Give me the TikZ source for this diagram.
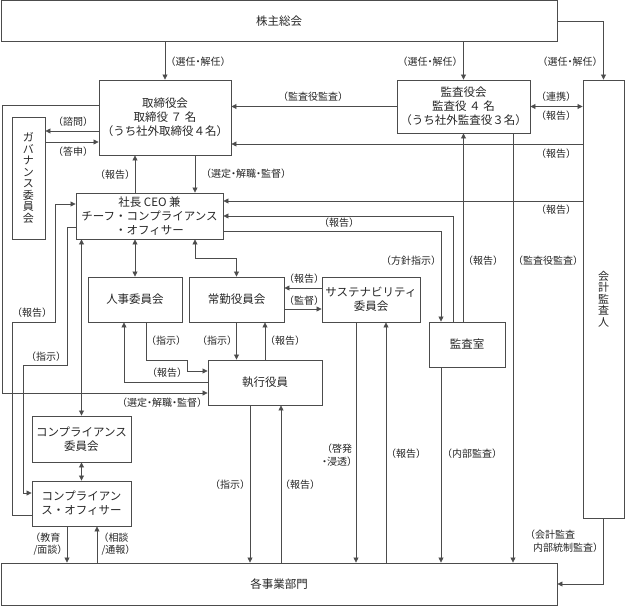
\documentclass[tikz,border=0pt]{standalone}
\usepackage{fontspec}
\setmainfont{Noto Sans CJK JP}
\newfontfamily\labfont{Noto Sans CJK JP}[RawFeature=+halt]
\usetikzlibrary{arrows.meta, calc}

\begin{document}
\begin{tikzpicture}
  [
   x=1pt, y=-1pt, % 以像素为单位, y 轴向下
   box/.style={draw=black!70, line width=0.9pt, inner sep=0pt, align=center,
               text=black!85, font=\fontsize{11.5}{14}\selectfont},
   vbox/.style={box, font=\fontsize{11}{11.5}\selectfont},
   arr/.style={draw=black!70, line width=0.8pt, -{Triangle[length=5pt,width=5pt]}},
   darr/.style={arr, {Triangle[length=5pt,width=5pt]}-{Triangle[length=5pt,width=5pt]}},
   lab/.style={inner sep=0pt, text=black!85, align=center,
               font=\labfont\fontsize{10}{12.5}\selectfont}
  ]
  \useasboundingbox (0,0) rectangle (625,606);

  % 各个方框
  \node[box, minimum width=556pt, minimum height=41pt] (kabunushi) at (279,21) {株主総会};
  \node[box, minimum width=132pt, minimum height=75pt] (torishimari) at (165,117.5)
       {取締役会\\取締役 ７ 名\\（うち社外取締役４名）};
  \node[box, minimum width=133pt, minimum height=53pt] (kansayaku) at (463.5,106.5)
       {監査役会\\監査役 ４ 名\\（うち社外監査役３名）};
  \node[vbox, minimum width=41pt, minimum height=438pt] (kaikei) at (603.5,299)
       {会\\計\\監\\査\\人};
  \node[vbox, minimum width=33pt, minimum height=122pt] (gov) at (28.5,178)
       {ガ\\バ\\ナ\\ン\\ス\\委\\員\\会};
  \node[box, minimum width=147pt, minimum height=46pt] (ceo) at (149.5,216)
       {社長 CEO 兼\\チーフ・コンプライアンス\\・オフィサー};
  \node[box, minimum width=94pt, minimum height=45pt] (jinji) at (135,299.5) {人事委員会};
  \node[box, minimum width=95pt, minimum height=45pt] (jokin) at (236.5,299.5) {常勤役員会};
  \node[box, minimum width=98pt, minimum height=45pt] (sustain) at (371,299.5)
       {サステナビリティ\\委員会};
  \node[box, minimum width=76pt, minimum height=45pt] (kansashitsu) at (467,344.5) {監査室};
  \node[box, minimum width=114pt, minimum height=45pt] (shikko) at (265,382.5) {執行役員};
  \node[box, minimum width=99pt, minimum height=46pt] (compiin) at (81.5,439)
       {コンプライアンス\\委員会};
  \node[box, minimum width=99pt, minimum height=45pt] (compoff) at (81.5,503.5)
       {コンプライアン\\ス・オフィサー};
  \node[box, minimum width=556pt, minimum height=42pt] (jigyo) at (279,584) {各事業部門};

  % 株主総会から
  \draw[arr] (kabunushi.south -| torishimari) -- (torishimari.north);
  \draw[arr] (kabunushi.south -| kansayaku) -- (kansayaku.north);
  \draw[arr] (kabunushi.east) -| (kaikei.north);
  \node[lab] (lsen1) at (198,62) {（選任・解任）};
  \node[lab] (lsen2) at (430,62) {（選任・解任）};
  \node[lab] (lsen3) at (570,62) {（選任・解任）};

  % 監査役会・会計監査人
  \draw[arr] (kansayaku.west) -- (torishimari.east |- kansayaku.west);
  \node[lab] (lkansa1) at (313,97) {（監査役監査）};
  \draw[darr] (kansayaku.east) -- (kaikei.west |- kansayaku.east);
  \node[lab] (lrenkei) at (556,97) {（連携）};
  \node[lab] (lhok1) at (556,116) {（報告）};
  \draw[arr] (kaikei.west |- 0,144) -- (torishimari.east |- 0,144);
  \node[lab] (lhok2) at (556,154) {（報告）};
  \draw[arr] (kaikei.west |- 0,201) -- (ceo.east |- 0,201);
  \node[lab] (lhok3) at (556,210) {（報告）};

  % 監査室
  \draw[arr] (kansashitsu.north -| 453,0) |- (ceo.east);
  \node[lab] (lhok4) at (339,223) {（報告）};
  \draw[arr] (ceo.east |- 0,231) -| (kansashitsu.north -| 441,0);
  \node[lab] (lhoshin) at (411,261) {（方針指示）};
  \draw[arr] (kansashitsu.north -| kansayaku) -- (kansayaku.south);
  \node[lab] (lhok5) at (483,261) {（報告）};
  \draw[arr] (kansayaku.south -| 513,0) -- (jigyo.north -| 513,0);
  \node[lab] (lkansa2) at (548,261) {（監査役監査）};
  \draw[arr] (kansashitsu.south -| 441,0) -- (jigyo.north -| 441,0);
  \node[lab] (lnaibu) at (472,454) {（内部監査）};
  \draw[arr] (kaikei.south) |- (jigyo.east);
  \node[lab, align=left] (lkaikei) at (564,541) {（会計監査\\\hspace{3pt}内部統制監査）};

  % サステナビリティ委員会
  \draw[arr] (sustain.south -| 356,0) -- (jigyo.north -| 356,0);
  \node[lab, align=right] (lkeihatsu) at (337,455) {（啓発\\・浸透）};
  \draw[arr] (jigyo.north -| 386,0) -- (sustain.south -| 386,0);
  \node[lab] (lhok6) at (406,454) {（報告）};
  \draw[arr] (jokin.east |- 0,309) -- (sustain.west |- 0,309);
  \node[lab] (lkantoku) at (304,301) {（監督）};
  \draw[arr] (sustain.west |- 0,288) -- (jokin.east |- 0,288);
  \node[lab] (lhok7) at (304,279) {（報告）};

  % 取締役会と社長
  \draw[arr] (torishimari.south -| 195,0) -- (ceo.north -| 195,0);
  \node[lab] (lsentei1) at (246,174) {（選定・解職・監督）};
  \draw[arr] (ceo.north -| 135,0) -- (torishimari.south -| 135,0);
  \node[lab] (lhok8) at (115,175) {（報告）};
  \draw[arr] (torishimari.west |- 0,131) -- (gov.east |- 0,131);
  \node[lab] (lshimon) at (73,122) {（諮問）};
  \draw[arr] (gov.east |- 0,142) -- (torishimari.west |- 0,142);
  \node[lab] (ltoshin) at (73,152) {（答申）};

  % 社長から下へ
  \draw[darr] (ceo.south -| jinji) -- (jinji.north);
  \draw[darr] (ceo.south -| 195,0) -- (195,258) -| (jokin.north);
  \draw[arr] (jinji.south -| 146,0) |- (187,360) |- (shikko.west |- 0,371);
  \node[lab] (lshiji1) at (166,341) {（指示）};
  \draw[arr] (shikko.west) -| (jinji.south -| 124,0);
  \node[lab] (lhok10) at (167,373) {（報告）};
  \draw[arr] (jokin.south) -- (shikko.north -| jokin.south);
  \node[lab] (lshiji2) at (217,341) {（指示）};
  \draw[arr] (shikko.north) -- (jokin.south -| shikko.north);
  \node[lab] (lhok9) at (285,341) {（報告）};
  \draw[arr] (shikko.south -| 250,0) -- (jigyo.north -| 250,0);
  \node[lab] (lshiji4) at (230,485) {（指示）};
  \draw[arr] (jigyo.north -| 281,0) -- (shikko.south -| 281,0);
  \node[lab] (lhok12) at (300,485) {（報告）};

  % 取締役会から執行役員へ(左端を回る)
  \draw[arr] (torishimari.west |- 0,105) -- (2,105) -- (2,393) -- (shikko.west |- 0,393);
  \node[lab] (lsentei2) at (162,403) {（選定・解職・監督）};

  % コンプライアンス
  \draw[darr] (ceo.south -| compiin) -- (compiin.north);
  \draw[darr] (compiin.south) -- (compoff.north);
  \draw[arr] (compoff.west |- 0,515) -| (12,322) -| (55,204) -- (ceo.west |- 0,204);
  \node[lab] (lhok11) at (32,313) {（報告）};
  \draw[arr] (ceo.west |- 0,227) -| (67,365) -| (23,493) -- (compoff.west |- 0,493);
  \node[lab] (lshiji3) at (46,357) {（指示）};
  \draw[arr] (compoff.south -| 67,0) -- (jigyo.north -| 67,0);
  \node[lab] (lkyoiku) at (48,544) {（教育\\/面談）};
  \draw[arr] (jigyo.north -| 97,0) -- (compoff.south -| 97,0);
  \node[lab] (lsodan) at (116,544) {（相談\\/通報）};
\end{tikzpicture}
\end{document}
